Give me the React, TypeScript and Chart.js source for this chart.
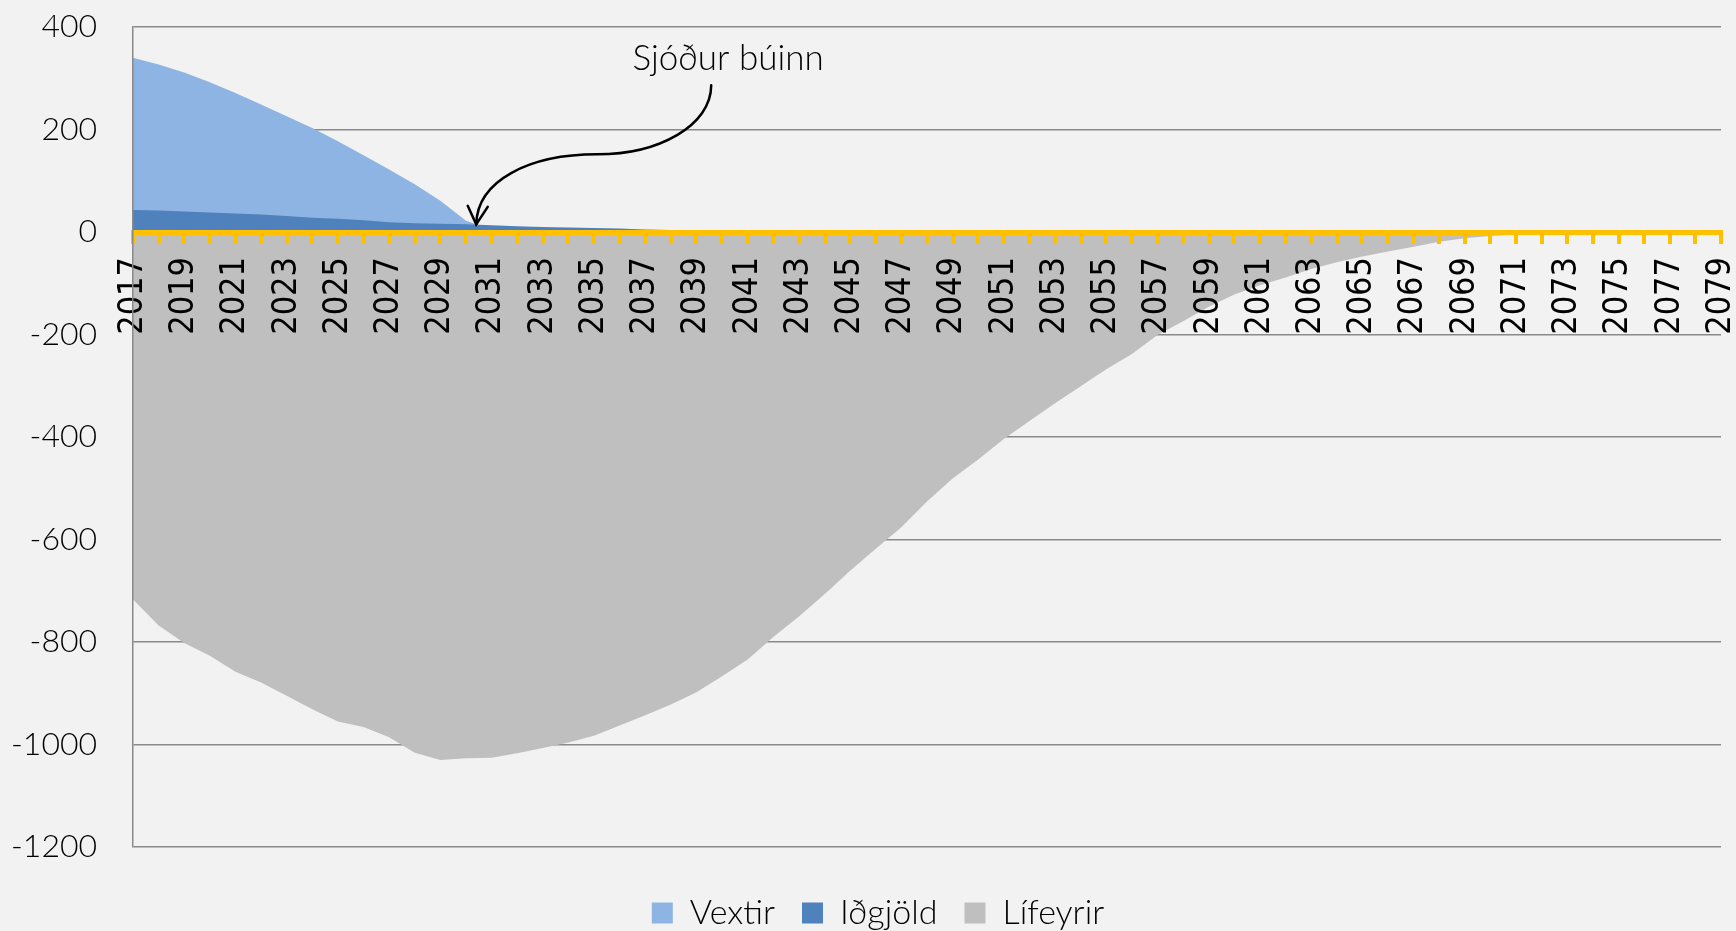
import React, { useEffect, useRef } from 'react';
import { Chart, registerables } from 'chart.js';

Chart.register(...registerables);

const years = [
  '2017', '2018', '2019', '2020', '2021', '2022', '2023', '2024', '2025', '2026',
  '2027', '2028', '2029', '2030', '2031', '2032', '2033', '2034', '2035', '2036',
  '2037', '2038', '2039', '2040', '2041', '2042', '2043', '2044', '2045', '2046',
  '2047', '2048', '2049', '2050', '2051', '2052', '2053', '2054', '2055', '2056',
  '2057', '2058', '2059', '2060', '2061', '2062', '2063', '2064', '2065', '2066',
  '2067', '2068', '2069', '2070', '2071', '2072', '2073', '2074', '2075', '2076',
  '2077', '2078', '2079',
];

const vextir = [
  340, 327, 311, 292, 271, 249, 226, 203, 177, 150,
  122, 93, 61, 22, 5, 3, 2, 1, 1, 0.5,
  0, 0, 0, 0, 0, 0, 0, 0, 0, 0,
  0, 0, 0, 0, 0, 0, 0, 0, 0, 0,
  0, 0, 0, 0, 0, 0, 0, 0, 0, 0,
  0, 0, 0, 0, 0, 0, 0, 0, 0, 0,
  0, 0, 0,
];

const idgjold = [
  43, 42, 40, 38, 36, 34, 31, 28, 26, 23,
  19, 17, 16, 15, 13, 11, 10, 9, 8, 7,
  5, 4, 2, 1, 0, 0, 0, 0, 0, 0,
  0, 0, 0, 0, 0, 0, 0, 0, 0, 0,
  0, 0, 0, 0, 0, 0, 0, 0, 0, 0,
  0, 0, 0, 0, 0, 0, 0, 0, 0, 0,
  0, 0, 0,
];

const lifeyrir = [
  -717, -768, -802, -827, -858, -879, -905, -931, -955, -966,
  -986, -1016, -1030, -1027, -1026, -1017, -1007, -996, -983, -963,
  -943, -922, -898, -867, -834, -790, -750, -707, -661, -618,
  -576, -526, -481, -444, -404, -369, -334, -301, -268, -238,
  -201, -174, -146, -122, -104, -89, -72, -59, -48, -38,
  -29, -19, -12, -8, -5, -3, -2, -1, -0.5, 0,
  0, 0, 0,
];

const seriesLabels = ['Vextir', 'Iðgjöld', 'Lífeyrir'];
const yTicks = [400, 200, 0, -200, -400, -600, -800, -1000, -1200];

const ANNOTATION_TEXT = 'Sjóður búinn';
// anchor points in data units (category index, value)
const ANNOTATION_TIP = { index: 13.4, value: 15 };
const ANNOTATION_LABEL = { index: 19.5, value: 317 };

const annotationPlugin = {
  id: 'sjodurAnnotation',
  afterDraw(chart: any) {
    const { ctx, scales } = chart;
    const xs = scales.x;
    const ys = scales.y;
    const tx = xs.getPixelForValue(ANNOTATION_TIP.index);
    const ty = ys.getPixelForValue(ANNOTATION_TIP.value);
    const lx = xs.getPixelForValue(ANNOTATION_LABEL.index);
    const ly = ys.getPixelForValue(ANNOTATION_LABEL.value);
    ctx.save();
    ctx.fillStyle = '#000';
    ctx.font = '300 35px Lato';
    ctx.textAlign = 'left';
    ctx.textBaseline = 'alphabetic';
    ctx.fillText(ANNOTATION_TEXT, lx, ly);

    ctx.strokeStyle = '#000';
    ctx.lineWidth = 2.5;
    ctx.lineCap = 'round';
    ctx.beginPath();
    ctx.moveTo(tx + 235, ty - 139);
    ctx.bezierCurveTo(tx + 235, ty - 99, tx + 183, ty - 70, tx + 121, ty - 70);
    ctx.bezierCurveTo(tx + 53, ty - 70, tx + 1, ty - 44, tx, ty);
    ctx.stroke();
    ctx.beginPath();
    ctx.moveTo(tx - 8.5, ty - 18.5);
    ctx.lineTo(tx, ty);
    ctx.lineTo(tx + 11.5, ty - 17.5);
    ctx.stroke();
    ctx.restore();
  },
};

export default function App() {
  const canvasRef = useRef<HTMLCanvasElement | null>(null);

  useEffect(() => {
    document.body.style.margin = '0';
    const canvas = canvasRef.current;
    if (!canvas) return;
    const chart = new Chart(canvas, {
      type: 'line',
      data: {
        labels: years,
        datasets: [
          {
            label: seriesLabels[0],
            data: vextir,
            backgroundColor: '#8EB4E3',
            borderColor: 'rgba(0,0,0,0)',
            borderWidth: 0,
            pointRadius: 0,
            fill: 'origin',
            tension: 0,
            order: 3,
          },
          {
            label: seriesLabels[1],
            data: idgjold,
            backgroundColor: '#4F81BD',
            borderColor: 'rgba(0,0,0,0)',
            borderWidth: 0,
            pointRadius: 0,
            fill: 'origin',
            tension: 0,
            order: 2,
          },
          {
            label: seriesLabels[2],
            data: lifeyrir,
            backgroundColor: '#BFBFBF',
            borderColor: 'rgba(0,0,0,0)',
            borderWidth: 0,
            pointRadius: 0,
            fill: 'origin',
            tension: 0,
            order: 1,
          },
        ],
      },
      options: {
        animation: false,
        responsive: true,
        maintainAspectRatio: false,
        events: [],
        layout: { padding: { left: 35, right: 15, top: 27, bottom: -9 } },
        scales: {
          x: {
            type: 'category',
            offset: false,
            position: { y: 0 },
            afterFit: (scale: any) => {
              scale.height = 0;
              scale.paddingLeft = 0;
              scale.paddingRight = 0;
              scale.paddingTop = 0;
              scale.paddingBottom = 0;
            },
            grid: {
              drawOnChartArea: false,
              drawTicks: true,
              tickLength: 9,
              color: '#FFC000',
              tickColor: '#FFC000',
              lineWidth: 4,
              tickWidth: 4,
              z: 1,
            },
            border: { display: true, color: '#FFC000', width: 5, z: 1 },
            ticks: {
              autoSkip: false,
              minRotation: 90,
              maxRotation: 90,
              padding: 16,
              color: '#000',
              font: { family: "'DejaVu Sans Condensed', 'DejaVu Sans'", size: 34 },
              callback: (_v: any, i: number) => (i % 2 === 0 ? years[i] : ''),
              z: 1,
            },
          },
          y: {
            min: -1200,
            max: 400,
            afterFit: (scale: any) => {
              scale.width = 98;
              scale.paddingTop = 0;
              scale.paddingBottom = 0;
            },
            afterBuildTicks: (scale: any) => {
              scale.ticks = yTicks.map((v) => ({ value: v }));
            },
            grid: {
              color: '#8A8A8A',
              lineWidth: 1.5,
              drawTicks: false,
            },
            border: { display: true, color: '#8A8A8A', width: 1.5, z: 1 },
            ticks: {
              mirror: true,
              crossAlign: 'far',
              padding: -122,
              color: '#000',
              font: { family: 'Lato', size: 32, weight: '300' },
              callback: (v: any) => String(v),
            },
          },
        },
        plugins: {
          legend: {
            display: true,
            position: 'bottom',
            title: { display: true, text: '', font: { size: 22, lineHeight: 1 }, padding: 0 },
            labels: {
              boxWidth: 21,
              boxHeight: 21,
              padding: 27,
              color: '#000',
              font: { family: 'Lato', size: 34, weight: '300' },
              sort: (a: any, b: any) => a.datasetIndex - b.datasetIndex,
            },
          },
          tooltip: { enabled: false },
        },
      },
      plugins: [annotationPlugin],
    });
    return () => chart.destroy();
  }, []);

  return (
    <div
      style={{
        position: 'fixed',
        left: 0,
        top: 0,
        width: '1736px',
        height: '931px',
        background: '#F2F2F2',
      }}
    >
      <canvas ref={canvasRef} />
    </div>
  );
}
